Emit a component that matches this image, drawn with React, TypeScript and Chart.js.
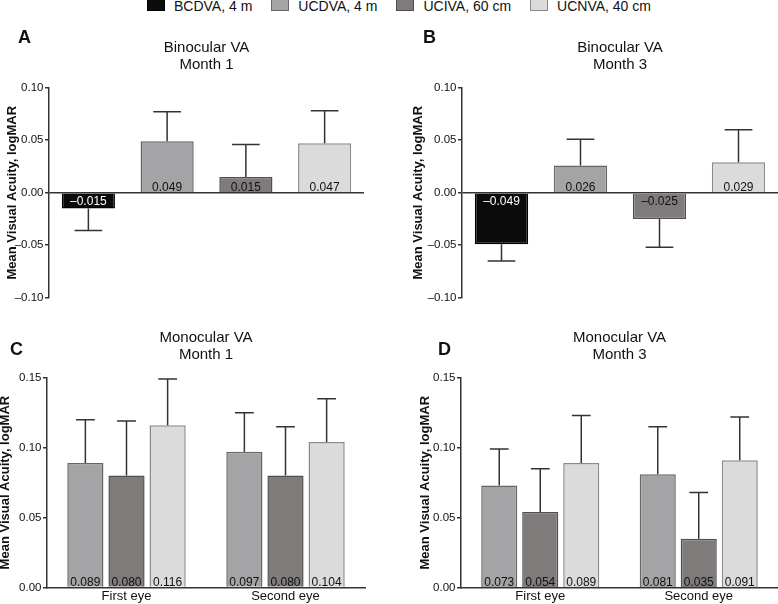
import React, { useEffect, useRef } from 'react';
import { Chart, registerables } from 'chart.js';

Chart.register(...registerables);

const FONT = '"Liberation Sans", Arial, Helvetica, sans-serif';

// ---------- data ----------
const seriesNames = ['BCDVA, 4 m', 'UCDVA, 4 m', 'UCIVA, 60 cm', 'UCNVA, 40 cm'];
const seriesColors = ['#0b0b0b', '#a4a4a6', '#7f7b7a', '#dbdbdb'];
const seriesBorders = ['#000000', '#666666', '#4f4f4f', '#8a8a8a'];
const seriesLabelColors = ['#ffffff', '#111111', '#111111', '#111111'];

const binocTicks = [-0.1, -0.05, 0, 0.05, 0.1];
const monoTicks = [0, 0.05, 0.1, 0.15];
const eyeCategories = ['First eye', 'Second eye'];

const binocM1Mean = [-0.015, 0.049, 0.015, 0.047];
const binocM1Err = [0.021, 0.028, 0.031, 0.031];
const binocM3Mean = [-0.049, 0.026, -0.025, 0.029];
const binocM3Err = [0.016, 0.025, 0.027, 0.031];

const monoM1UCDVA = [0.089, 0.097];
const monoM1UCIVA = [0.08, 0.08];
const monoM1UCNVA = [0.116, 0.104];
const monoM1UCDVAErr = [0.031, 0.028];
const monoM1UCIVAErr = [0.039, 0.035];
const monoM1UCNVAErr = [0.033, 0.031];

const monoM3UCDVA = [0.073, 0.081];
const monoM3UCIVA = [0.054, 0.035];
const monoM3UCNVA = [0.089, 0.091];
const monoM3UCDVAErr = [0.026, 0.034];
const monoM3UCIVAErr = [0.031, 0.033];
const monoM3UCNVAErr = [0.034, 0.031];

const yAxisTitle = 'Mean Visual Acuity, logMAR';

// ---------- helpers ----------
const dash = (s: string) => s.replace('-', '\u2013');
const fmt2 = (v: number) => dash(Number(v).toFixed(2));
const fmt3 = (v: number) => dash(Number(v).toFixed(3));

interface PanelSpec {
  key: string;
  letter: string;
  title: string[];
  left: number;
  top: number;
  width: number;
  height: number;
  kind: 'binoc' | 'mono';
  yMin: number;
  yMax: number;
  ticks: number[];
  yWidth: number;
  pad: { left: number; right: number; top: number; bottom: number };
  letterX: number;
  letterY: number;
  yTitleX: number;
  means: number[][];
  errs: number[][];
}

const panels: PanelSpec[] = [
  {
    key: 'A', letter: 'A', title: ['Binocular VA', 'Month 1'],
    left: 0, top: 0, width: 389, height: 320, kind: 'binoc',
    yMin: -0.1, yMax: 0.1, ticks: binocTicks, yWidth: 49,
    pad: { left: 0, right: 25, top: 87.7, bottom: 22.3 },
    letterX: 18, letterY: 43, yTitleX: 12,
    means: [binocM1Mean], errs: [binocM1Err],
  },
  {
    key: 'B', letter: 'B', title: ['Binocular VA', 'Month 3'],
    left: 389, top: 0, width: 389, height: 320, kind: 'binoc',
    yMin: -0.1, yMax: 0.1, ticks: binocTicks, yWidth: 73,
    pad: { left: 0, right: 0, top: 87.7, bottom: 22.3 },
    letterX: 34, letterY: 43, yTitleX: 29,
    means: [binocM3Mean], errs: [binocM3Err],
  },
  {
    key: 'C', letter: 'C', title: ['Monocular VA', 'Month 1'],
    left: 0, top: 320, width: 389, height: 284, kind: 'mono',
    yMin: 0, yMax: 0.15, ticks: monoTicks, yWidth: 47,
    pad: { left: 0, right: 24, top: 57.7, bottom: 0.5 },
    letterX: 10, letterY: 35, yTitleX: 5,
    means: [monoM1UCDVA, monoM1UCIVA, monoM1UCNVA],
    errs: [monoM1UCDVAErr, monoM1UCIVAErr, monoM1UCNVAErr],
  },
  {
    key: 'D', letter: 'D', title: ['Monocular VA', 'Month 3'],
    left: 389, top: 320, width: 389, height: 284, kind: 'mono',
    yMin: 0, yMax: 0.15, ticks: monoTicks, yWidth: 72,
    pad: { left: 0, right: 0, top: 57.7, bottom: 0.3 },
    letterX: 49, letterY: 35, yTitleX: 36,
    means: [monoM3UCDVA, monoM3UCIVA, monoM3UCNVA],
    errs: [monoM3UCDVAErr, monoM3UCIVAErr, monoM3UCNVAErr],
  },
];

function makeOverlay(p: PanelSpec) {
  return {
    id: 'overlay' + p.key,
    afterDatasetsDraw(chart: any) {
      const ctx = chart.ctx;
      const ys = chart.scales.y;
      const y0 = ys.getPixelForValue(0);
      chart.data.datasets.forEach((ds: any, di: number) => {
        const meta = chart.getDatasetMeta(di);
        meta.data.forEach((el: any, j: number) => {
          const v = ds.data[j] as number;
          const e = ds.errors[j] as number;
          const { x, width } = el.getProps(['x', 'width'], true);
          const end = v >= 0 ? v + e : v - e;
          const yv = ys.getPixelForValue(v);
          const ye = ys.getPixelForValue(end);
          ctx.save();
          ctx.strokeStyle = '#333333';
          ctx.lineWidth = 1.5;
          ctx.beginPath();
          ctx.moveTo(x, yv);
          ctx.lineTo(x, ye);
          const c = width * 0.26;
          ctx.moveTo(x - c, ye);
          ctx.lineTo(x + c, ye);
          ctx.stroke();
          const lc = Array.isArray(ds.valueLabelColor) ? ds.valueLabelColor[j] : ds.valueLabelColor;
          ctx.fillStyle = lc;
          ctx.font = `12px ${FONT}`;
          ctx.textAlign = 'center';
          ctx.textBaseline = 'alphabetic';
          ctx.fillText(fmt3(v), x, v >= 0 ? y0 - 1.5 : y0 + 12.5);
          ctx.restore();
        });
      });
    },
    afterDraw(chart: any) {
      const ctx = chart.ctx;
      const ca = chart.chartArea;
      ctx.save();
      ctx.fillStyle = '#111111';
      ctx.font = `bold 18px ${FONT}`;
      ctx.textAlign = 'left';
      ctx.textBaseline = 'alphabetic';
      ctx.fillText(p.letter, p.letterX, p.letterY);
      ctx.font = `15px ${FONT}`;
      ctx.textAlign = 'center';
      ctx.textBaseline = 'middle';
      const cx = (ca.left + ca.right) / 2;
      ctx.fillText(p.title[0], cx, ca.top - 40);
      ctx.fillText(p.title[1], cx, ca.top - 23);
      ctx.translate(p.yTitleX, (ca.top + ca.bottom) / 2);
      ctx.rotate(-Math.PI / 2);
      ctx.font = `bold 13px ${FONT}`;
      ctx.fillText(yAxisTitle, 0, 0);
      ctx.restore();
    },
  };
}

function buildConfig(p: PanelSpec): any {
  let labels: string[];
  let datasets: any[];
  if (p.kind === 'binoc') {
    labels = seriesNames;
    datasets = [
      {
        label: 'Binocular',
        data: p.means[0],
        errors: p.errs[0],
        backgroundColor: seriesColors,
        borderColor: seriesBorders,
        valueLabelColor: seriesLabelColors,
        borderWidth: 1.5,
        barPercentage: 0.675,
        categoryPercentage: 1,
      },
    ];
  } else {
    labels = eyeCategories;
    datasets = p.means.map((m, i) => ({
      label: seriesNames[i + 1],
      data: m,
      errors: p.errs[i],
      backgroundColor: seriesColors[i + 1],
      borderColor: seriesBorders[i + 1],
      valueLabelColor: seriesLabelColors[i + 1],
      borderWidth: 1.5,
      barPercentage: 0.88,
      categoryPercentage: 0.776,
    }));
  }
  const tickValues = p.ticks;
  return {
    type: 'bar',
    data: { labels, datasets },
    options: {
      responsive: false,
      animation: false,
      devicePixelRatio: 1,
      layout: { padding: p.pad },
      plugins: { legend: { display: false }, tooltip: { enabled: false }, title: { display: false } },
      scales: {
        x: p.kind === 'binoc'
          ? { display: false }
          : {
              display: true,
              afterFit: (s: any) => { s.height = 16; },
              grid: { display: false, drawTicks: false },
              border: { display: true, color: '#333333', width: 1.5 },
              ticks: { font: { size: 13, family: FONT }, color: '#111111', padding: 1, maxRotation: 0 },
            },
        y: {
          min: p.yMin,
          max: p.yMax,
          afterBuildTicks: (s: any) => { s.ticks = tickValues.map((v) => ({ value: v })); },
          afterFit: (s: any) => { s.width = p.yWidth; },
          ticks: {
            callback: (v: any) => fmt2(Number(v)),
            font: { size: 11.5, family: FONT },
            color: '#111111',
            padding: 1.5,
          },
          grid: {
            color: (c: any) => (p.kind === 'binoc' && c.tick && c.tick.value === 0 ? '#333333' : 'rgba(0,0,0,0)'),
            tickColor: '#333333',
            tickLength: 4,
            lineWidth: 1.5,
          },
          border: { display: true, color: '#333333', width: 1.5 },
        },
      },
    },
    plugins: [makeOverlay(p)],
  };
}

function Panel({ p }: { p: PanelSpec }) {
  const ref = useRef<HTMLCanvasElement | null>(null);
  useEffect(() => {
    if (!ref.current) return;
    const chart = new Chart(ref.current, buildConfig(p));
    return () => chart.destroy();
  }, [p]);
  return (
    <canvas
      ref={ref}
      width={p.width}
      height={p.height}
      style={{ position: 'absolute', left: p.left, top: p.top, width: p.width, height: p.height, display: 'block' }}
    />
  );
}

function Legend() {
  return (
    <div
      style={{
        position: 'absolute', left: 147, top: -1, height: 14, display: 'flex', alignItems: 'center',
        fontFamily: FONT, fontSize: 14, lineHeight: '14px', color: '#111111', whiteSpace: 'nowrap',
      }}
    >
      {seriesNames.map((n, i) => (
        <div key={n} style={{ display: 'flex', alignItems: 'center', marginRight: 19 }}>
          <span
            style={{
              display: 'inline-block', width: 18, height: 16, boxSizing: 'border-box',
              background: seriesColors[i], border: `1.5px solid ${seriesBorders[i]}`,
              position: 'relative', top: -3, marginRight: 9,
            }}
          />
          <span>{n}</span>
        </div>
      ))}
    </div>
  );
}

export default function App() {
  return (
    <div style={{ position: 'absolute', left: 0, top: 0, width: 778, height: 604, overflow: 'hidden', background: '#ffffff' }}>
      <Legend />
      {panels.map((p) => (
        <Panel key={p.key} p={p} />
      ))}
    </div>
  );
}
